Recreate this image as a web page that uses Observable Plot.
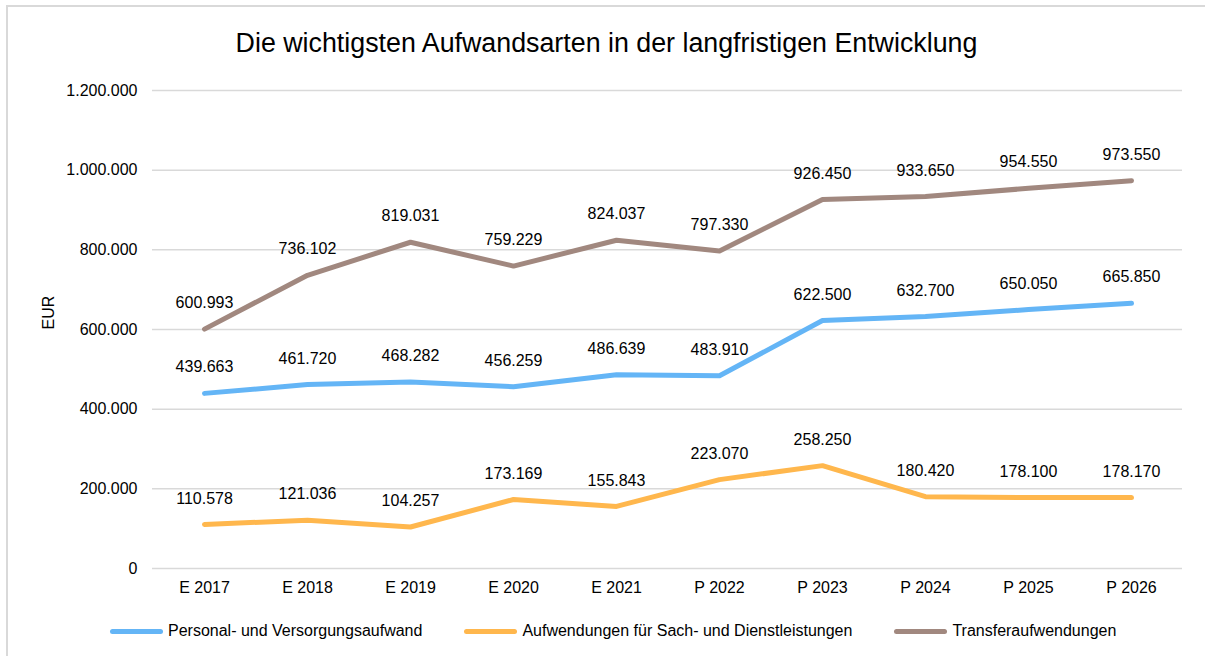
<!DOCTYPE html>
<html>
<head>
<meta charset="utf-8">
<script src="https://cdn.jsdelivr.net/npm/d3@7"></script>
<script src="https://cdn.jsdelivr.net/npm/@observablehq/plot@0.6"></script>
<style>
  html, body { margin: 0; padding: 0; background: #fff; width: 1205px; height: 656px; overflow: hidden; font-family: "Liberation Sans", Arial, sans-serif; }
  #frame { position: absolute; left: 6px; top: 5px; width: 1205px; height: 700px; border: 2px solid #d9d9d9; box-sizing: border-box; }
  #title { position: absolute; left: 0; top: 26px; width: 1213px; text-align: center; font-size: 26.8px; color: #000; line-height: 34px; }
  #chart { position: absolute; left: 0; top: 60px; }
  #legend { position: absolute; left: 110px; top: 620px; display: flex; gap: 42px; font-size: 16px; color: #000; line-height: 22px; }
  .item { display: flex; align-items: center; gap: 5px; }
  .sw { width: 53px; height: 5px; border-radius: 3px; }
</style>
</head>
<body>
<div id="frame"></div>
<div id="title">Die wichtigsten Aufwandsarten in der langfristigen Entwicklung</div>
<div id="chart"></div>
<div id="legend"></div>
<script>
const categories = ["E 2017", "E 2018", "E 2019", "E 2020", "E 2021", "P 2022", "P 2023", "P 2024", "P 2025", "P 2026"];
const seriesNames = ["Personal- und Versorgungsaufwand", "Aufwendungen für Sach- und Dienstleistungen", "Transferaufwendungen"];
const personal = [439663, 461720, 468282, 456259, 486639, 483910, 622500, 632700, 650050, 665850];
const sach = [110578, 121036, 104257, 173169, 155843, 223070, 258250, 180420, 178100, 178170];
const transfer = [600993, 736102, 819031, 759229, 824037, 797330, 926450, 933650, 954550, 973550];
const yTicks = [0, 200000, 400000, 600000, 800000, 1000000, 1200000];
const colors = ["#64B5F6", "#FFB74D", "#A1887F"];

const seriesValues = [personal, sach, transfer];
const data = [];
seriesValues.forEach((vals, si) => {
  vals.forEach((v, i) => data.push({series: seriesNames[si], cat: categories[i], value: v}));
});

const fmt = v => d3.format(",")(v).replace(/,/g, ".");

const chart = Plot.plot({
  width: 1205,
  height: 540,
  marginLeft: 152,
  marginRight: 23,
  marginTop: 30,
  marginBottom: 32,
  style: {fontFamily: "'Liberation Sans', Arial, sans-serif", fontSize: "16px", color: "#000", background: "transparent"},
  x: {type: "point", domain: categories, padding: 0.5, label: null},
  y: {domain: [0, 1200000], label: null},
  color: {domain: seriesNames, range: colors},
  marks: [
    Plot.gridY(yTicks, {stroke: "#d9d9d9", strokeOpacity: 1, strokeWidth: 1.5}),
    Plot.axisY({ticks: yTicks, tickFormat: fmt, tickSize: 0, tickPadding: 15, label: null}),
    Plot.axisX({tickSize: 0, tickPadding: 13, label: null}),
    Plot.text(["EUR"], {frameAnchor: "left", dx: -104, rotate: -90, fontSize: 16, fill: "#000"}),
    Plot.line(data, {x: "cat", y: "value", z: "series", stroke: "series", strokeWidth: 5, strokeLinecap: "round", strokeLinejoin: "round"}),
    Plot.text(data, {x: "cat", y: "value", text: d => fmt(d.value), dy: -26, fill: "#000", fontSize: 16})
  ]
});
document.getElementById("chart").appendChild(chart);

const legend = document.getElementById("legend");
seriesNames.forEach((name, i) => {
  const item = document.createElement("div");
  item.className = "item";
  const sw = document.createElement("div");
  sw.className = "sw";
  sw.style.background = colors[i];
  const label = document.createElement("span");
  label.textContent = name;
  item.appendChild(sw);
  item.appendChild(label);
  legend.appendChild(item);
});
</script>
</body>
</html>
